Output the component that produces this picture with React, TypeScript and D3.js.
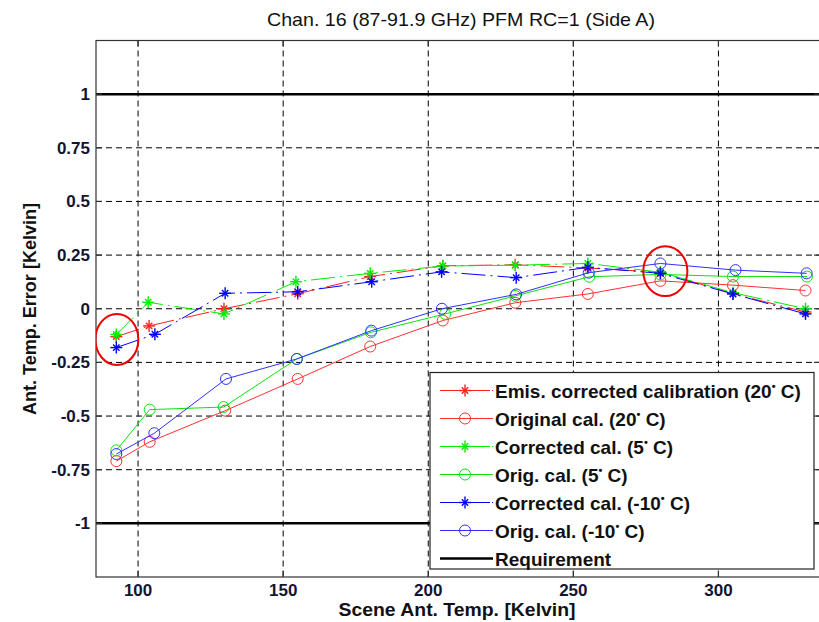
import React from 'react';
import * as d3 from 'd3';

// scene antenna temperatures (Kelvin) and errors
const xRedStar = [92.5, 103.8, 129.6, 155, 180, 205, 230, 255, 280, 305, 330];
const yRedStar = [-0.13, -0.08, 0.0, 0.07, 0.15, 0.2, 0.205, 0.19, 0.17, 0.07, -0.015];
const xRedCirc = [92.5, 104, 130, 155, 180, 205, 230, 255, 280, 305, 330];
const yRedCirc = [-0.71, -0.62, -0.475, -0.327, -0.176, -0.055, 0.028, 0.069, 0.13, 0.11, 0.085];
const xGreenStar = [92.5, 103.5, 129.6, 154.4, 180, 205, 230, 255, 280, 305, 330];
const yGreenStar = [-0.12, 0.03, -0.024, 0.126, 0.165, 0.199, 0.203, 0.211, 0.17, 0.075, 0.0];
const xGreenCirc = [92.5, 104, 129.5, 154.7, 180.2, 205.8, 230, 255.5, 280, 305, 330.5];
const yGreenCirc = [-0.66, -0.47, -0.458, -0.234, -0.11, -0.024, 0.06, 0.149, 0.16, 0.15, 0.15];
const xBlueStar = [92.5, 105.8, 130, 155, 180.5, 204.6, 230.3, 255, 280, 305, 330];
const yBlueStar = [-0.181, -0.119, 0.072, 0.079, 0.126, 0.172, 0.145, 0.193, 0.165, 0.069, -0.024];
const xBlueCirc = [92.5, 105.6, 130.3, 154.7, 180.4, 204.7, 230.3, 255.3, 280, 305.9, 330.4];
const yBlueCirc = [-0.677, -0.58, -0.327, -0.234, -0.102, 0.0, 0.067, 0.168, 0.211, 0.18, 0.165];

const requirement = [1, -1];
const xTicks = [100, 150, 200, 250, 300];
const yTicks = [-1, -0.75, -0.5, -0.25, 0, 0.25, 0.5, 0.75, 1];
const yTickLabels = ['-1', '-0.75', '-0.5', '-0.25', '0', '0.25', '0.5', '0.75', '1'];

// red annotation ellipses: centre x, centre y, half width (K), half height (Kelvin error)
const ringX = [92.7, 281.7];
const ringY = [-0.143, 0.175];
const ringRx = [7.4, 7.6];
const ringRy = [0.119, 0.116];

const series = [
  { label: 'Emis. corrected calibration (20', xs: xRedStar, ys: yRedStar, color: '#ff2020', marker: 'star' },
  { label: 'Original cal. (20', xs: xRedCirc, ys: yRedCirc, color: '#ff3030', marker: 'circle' },
  { label: 'Corrected cal. (5', xs: xGreenStar, ys: yGreenStar, color: '#00ee00', marker: 'star' },
  { label: 'Orig. cal. (5', xs: xGreenCirc, ys: yGreenCirc, color: '#10e010', marker: 'circle' },
  { label: 'Corrected cal. (-10', xs: xBlueStar, ys: yBlueStar, color: '#0000ff', marker: 'star' },
  { label: 'Orig. cal. (-10', xs: xBlueCirc, ys: yBlueCirc, color: '#3030ff', marker: 'circle' },
];

const W = 819;
const H = 622;
const left = 96, right = 820, top = 40.5, bottom = 577;

const Star = ({ x, y, color }) => {
  const s = 6, d = 3.2;
  return (
    <g stroke={color} strokeWidth={1.4}>
      <line x1={x - s} y1={y} x2={x + s} y2={y} />
      <line x1={x} y1={y - s} x2={x} y2={y + s} />
      <line x1={x - d} y1={y - d} x2={x + d} y2={y + d} />
      <line x1={x - d} y1={y + d} x2={x + d} y2={y - d} />
    </g>
  );
};

const Circle = ({ x, y, color }) => (
  <circle cx={x} cy={y} r={5.5} fill="none" stroke={color} strokeWidth={1} />
);

const App = () => {
  const x = d3.scaleLinear().domain([85.5, 335]).range([left, right]);
  const y = d3.scaleLinear().domain([-1.25, 1.25]).range([bottom, top]);
  const line = d3.line<number>();

  const font = 'Arial, "Liberation Sans", sans-serif';
  const legX = 430, legY = 372.5, legW = 384, legH = 196.5;

  return (
    <svg width={W} height={H} style={{ position: 'absolute', left: 0, top: 0, background: '#fff' }}>
      <defs>
        <clipPath id="plot">
          <rect x={left} y={top} width={right - left} height={bottom - top} />
        </clipPath>
      </defs>
      <rect x={0} y={0} width={W} height={H} fill="#fff" />

      {/* grid */}
      <g stroke="#000" strokeWidth={1} strokeDasharray="6,4">
        {xTicks.map(t => (
          <line key={'gx' + t} x1={x(t)} x2={x(t)} y1={top} y2={bottom} />
        ))}
        {yTicks.map(t => (
          <line key={'gy' + t} x1={left} x2={right} y1={y(t)} y2={y(t)} />
        ))}
      </g>

      {/* requirement */}
      {requirement.map(r => (
        <line key={'req' + r} x1={left} x2={right} y1={y(r)} y2={y(r)} stroke="#000" strokeWidth={2.5} />
      ))}

      {/* axes box + ticks */}
      <g stroke="#333" strokeWidth={1.2} fill="none">
        <rect x={left} y={top} width={right - left} height={bottom - top} />
        {xTicks.map(t => (
          <g key={'tx' + t}>
            <line x1={x(t)} x2={x(t)} y1={bottom} y2={bottom - 6} />
            <line x1={x(t)} x2={x(t)} y1={top} y2={top + 6} />
          </g>
        ))}
        {yTicks.map(t => (
          <g key={'ty' + t}>
            <line x1={left} x2={left + 6} y1={y(t)} y2={y(t)} />
            <line x1={right} x2={right - 6} y1={y(t)} y2={y(t)} />
          </g>
        ))}
      </g>

      {/* data */}
      <g clipPath="url(#plot)">
        {series.map((s, i) => {
          const pts = s.xs.map((v, j) => [x(v), y(s.ys[j])] as [number, number]);
          return (
            <g key={'s' + i}>
              <path
                d={line(pts) || ''}
                fill="none"
                stroke={s.color}
                strokeWidth={1}
                strokeDasharray={s.marker === 'star' ? '24,5,2,5' : undefined}
              />
              {pts.map((p, j) =>
                s.marker === 'star'
                  ? <Star key={j} x={p[0]} y={p[1]} color={s.color} />
                  : <Circle key={j} x={p[0]} y={p[1]} color={s.color} />
              )}
            </g>
          );
        })}
        {ringX.map((cx, i) => (
          <ellipse
            key={'ring' + i}
            cx={x(cx)}
            cy={y(ringY[i])}
            rx={x(cx + ringRx[i]) - x(cx)}
            ry={y(ringY[i] - ringRy[i]) - y(ringY[i])}
            fill="none"
            stroke="#ee0000"
            strokeWidth={2}
          />
        ))}
      </g>

      {/* tick labels */}
      <g fontFamily={font} fontWeight="bold" fontSize={17} fill="#141432">
        {xTicks.map(t => (
          <text key={'lx' + t} x={x(t)} y={bottom + 19} textAnchor="middle">{t}</text>
        ))}
        {yTicks.map((t, i) => (
          <text key={'ly' + t} x={left - 6} y={y(t) + 6} textAnchor="end">{yTickLabels[i]}</text>
        ))}
      </g>

      {/* titles */}
      <text x={461} y={26} textAnchor="middle" fontFamily='"Liberation Sans Narrow", "Arial Narrow", Arial, sans-serif'
        fontSize={19} fill="#111" textLength={388} lengthAdjust="spacingAndGlyphs">
        Chan. 16 (87-91.9 GHz) PFM RC=1 (Side A)
      </text>
      <text x={457} y={616} textAnchor="middle" fontFamily={font} fontWeight="bold" fontSize={17.5} fill="#111"
        textLength={237} lengthAdjust="spacingAndGlyphs">
        Scene Ant. Temp. [Kelvin]
      </text>
      <text transform="translate(36,309) rotate(-90)" textAnchor="middle" fontFamily={font} fontWeight="bold"
        fontSize={18} fill="#111" textLength={212} lengthAdjust="spacingAndGlyphs">
        Ant. Temp. Error [Kelvin]
      </text>

      {/* legend */}
      <g>
        <rect x={legX} y={legY} width={legW} height={legH} fill="#fff" stroke="#222" strokeWidth={1.2} />
        {series.map((s, i) => {
          const cy = legY + 18 + i * 28;
          return (
            <g key={'leg' + i}>
              <line x1={legX + 10} x2={legX + 63} y1={cy} y2={cy} stroke={s.color} strokeWidth={1}
                strokeDasharray={s.marker === 'star' ? '50,2,1.5,2' : undefined} />
              {s.marker === 'star'
                ? <Star x={legX + 35} y={cy} color={s.color} />
                : <Circle x={legX + 35} y={cy} color={s.color} />}
              <text x={legX + 65} y={cy + 7} fontFamily={font} fontWeight="bold" fontSize={19} fill="#111">
                {s.label}
                <tspan fontSize={11} dy={-8}>•</tspan>
                <tspan dy={8}> C)</tspan>
              </text>
            </g>
          );
        })}
        <line x1={legX + 10} x2={legX + 63} y1={legY + 18 + 6 * 28} y2={legY + 18 + 6 * 28} stroke="#000" strokeWidth={2.5} />
        <text x={legX + 65} y={legY + 25 + 6 * 28} fontFamily={font} fontWeight="bold" fontSize={19} fill="#111">Requirement</text>
      </g>
    </svg>
  );
};

export default App;
